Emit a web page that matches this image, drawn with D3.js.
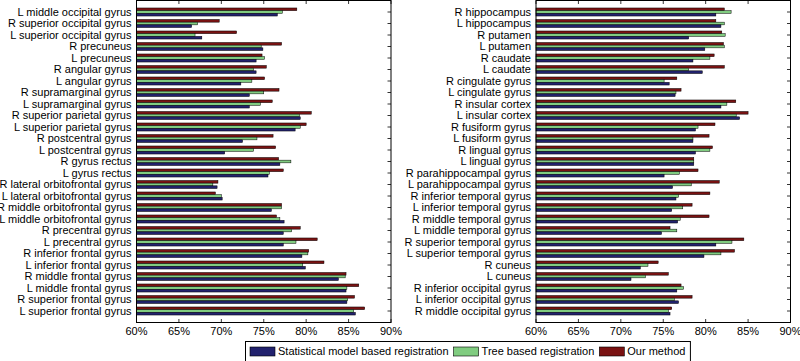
<!DOCTYPE html>
<html><head><meta charset="utf-8">
<script src="https://cdn.jsdelivr.net/npm/d3@7"></script>
<style>body{margin:0;background:#fff}svg{display:block}text{font-family:"Liberation Sans",Arial,sans-serif}</style>
</head><body><svg id="c" width="800" height="361"></svg>
<script>
const leftCategories = ["L middle occipital gyrus","R superior occipital gyrus","L superior occipital gyrus","R precuneus","L precuneus","R angular gyrus","L angular gyrus","R supramarginal gyrus","L supramarginal gyrus","R superior parietal gyrus","L superior parietal gyrus","R postcentral gyrus","L postcentral gyrus","R gyrus rectus","L gyrus rectus","R lateral orbitofrontal gyrus","L lateral orbitofrontal gyrus","R middle orbitofrontal gyrus","L middle orbitofrontal gyrus","R precentral gyrus","L precentral gyrus","R inferior frontal gyrus","L inferior frontal gyrus","R middle frontal gyrus","L middle frontal gyrus","R superior frontal gyrus","L superior frontal gyrus"];
const leftStat = [76.6,66.5,67.7,74.9,74.1,74.1,72.3,73.3,73.3,79.3,78.7,72.5,70.4,76.9,75.5,69.5,70.1,75.9,77.4,77.3,77.3,79.5,79.9,83.8,84.7,84.8,85.8];
const leftTree = [77.2,67.2,66.9,74.7,75.1,73.8,73.6,75.0,74.6,79.2,79.3,74.2,73.8,78.2,75.65,69.0,70.0,77.1,76.9,78.3,78.8,80.2,79.6,84.6,84.8,84.9,85.6];
const leftOurs = [78.9,69.75,71.8,77.1,74.8,75.3,75.1,76.8,76.0,80.6,80.0,76.1,76.4,76.75,77.3,69.6,69.3,77.1,76.5,79.3,81.3,80.3,82.1,84.7,86.2,85.7,86.9];

const rightCategories = ["R hippocampus","L hippocampus","R putamen","L putamen","R caudate","L caudate","R cingulate gyrus","L cingulate gyrus","R insular cortex","L insular cortex","R fusiform gyrus","L fusiform gyrus","R lingual gyrus","L lingual gyrus","R parahippocampal gyrus","L parahippocampal gyrus","R inferior temporal gyrus","L inferior temporal gyrus","R middle temporal gyrus","L middle temporal gyrus","R superior temporal gyrus","L superior temporal gyrus","R cuneus","L cuneus","R inferior occipital gyrus","L inferior occipital gyrus","R middle occipital gyrus"];
const rightStat = [81.2,81.8,78.0,79.9,78.5,79.6,75.7,76.4,81.8,84.0,78.8,78.5,78.8,78.6,75.1,76.1,76.5,76.0,76.7,74.8,81.2,79.8,72.3,71.2,76.6,76.8,75.8];
const rightTree = [83.0,82.2,82.3,82.2,80.5,78.0,75.1,76.5,82.5,83.6,79.1,78.5,80.5,78.6,76.9,78.3,76.8,77.3,77.0,76.6,83.1,81.8,73.2,72.9,77.4,76.3,75.6];
const rightOurs = [82.2,81.2,81.9,82.1,81.0,82.2,76.6,77.1,83.55,85.0,81.1,80.4,80.8,78.6,79.1,81.6,80.5,78.4,80.4,75.8,84.5,83.4,74.4,75.6,77.1,78.4,76.0];

const xTicks = [60,65,70,75,80,85,90];
const seriesNames = ["Statistical model based registration","Tree based registration","Our method"];
const seriesColors = ["#22226e","#80cc80","#7a1212"];

const svg = d3.select("#c");
const plotTop = 0.5, plotBottom = 322.5;

function panel(x0, x1, cats, stat, tree, ours) {
  const x = d3.scaleLinear().domain([60,90]).range([x0,x1]);
  const y = d3.scaleBand().domain(cats).range([plotTop,plotBottom]).paddingInner(0).paddingOuter(0.5);
  const step = y.step();
  const groupH = step*0.7;
  const bh = groupH/3;
  const g = svg.append("g");
  const series = [ours, tree, stat];
  const cols = [seriesColors[2], seriesColors[1], seriesColors[0]];
  cats.forEach((c,i)=>{
    const cy = y(c) + step/2 - groupH/2;
    series.forEach((s,k)=>{
      g.append("rect").attr("x",x(60)).attr("y",cy + k*bh)
        .attr("width",Math.max(0,x(s[i])-x(60))).attr("height",bh)
        .attr("fill",cols[k]).attr("stroke","#000").attr("stroke-width",0.5);
    });
  });
  const tk = 3.5;
  xTicks.forEach(t=>{
    g.append("line").attr("x1",x(t)).attr("x2",x(t)).attr("y1",plotBottom).attr("y2",plotBottom-tk).attr("stroke","#000").attr("stroke-width",0.8);
    g.append("line").attr("x1",x(t)).attr("x2",x(t)).attr("y1",plotTop).attr("y2",plotTop+tk).attr("stroke","#000").attr("stroke-width",0.8);
    g.append("text").attr("x",x(t)).attr("y",plotBottom+12).attr("text-anchor","middle")
      .attr("font-size",11).attr("fill","#000").text(t+"%");
  });
  cats.forEach(c=>{
    const cy = y(c)+step/2;
    g.append("line").attr("x1",x1).attr("x2",x1-tk).attr("y1",cy).attr("y2",cy).attr("stroke","#000").attr("stroke-width",0.8);
    g.append("text").attr("x",x0-5).attr("y",cy).attr("dy","0.35em").attr("text-anchor","end")
      .attr("font-size",11).attr("fill","#000").text(c);
  });
  g.append("rect").attr("x",x0).attr("y",plotTop).attr("width",x1-x0).attr("height",plotBottom-plotTop)
    .attr("fill","none").attr("stroke","#000").attr("stroke-width",1);
}

panel(136.5, 391, leftCategories, leftStat, leftTree, leftOurs);
panel(536, 790.5, rightCategories, rightStat, rightTree, rightOurs);

const lg = svg.append("g");
const lx = 245.5, ly = 341.5, lh = 21;
const box = lg.append("rect").attr("x",lx).attr("y",ly).attr("width",440).attr("height",lh).attr("fill","#fff").attr("stroke","#000").attr("stroke-width",1);
let cx = 250;
seriesNames.forEach((n,i)=>{
  lg.append("rect").attr("x",cx).attr("y",347).attr("width",25).attr("height",9)
    .attr("fill",seriesColors[i]).attr("stroke","#000").attr("stroke-width",0.6);
  const t = lg.append("text").attr("x",cx+28).attr("y",351.5).attr("dy","0.35em")
    .attr("font-size",11).attr("fill","#000").text(n);
  cx = cx + 28 + t.node().getComputedTextLength() + 5;
});
box.attr("width", cx - lx);
</script></body></html>
